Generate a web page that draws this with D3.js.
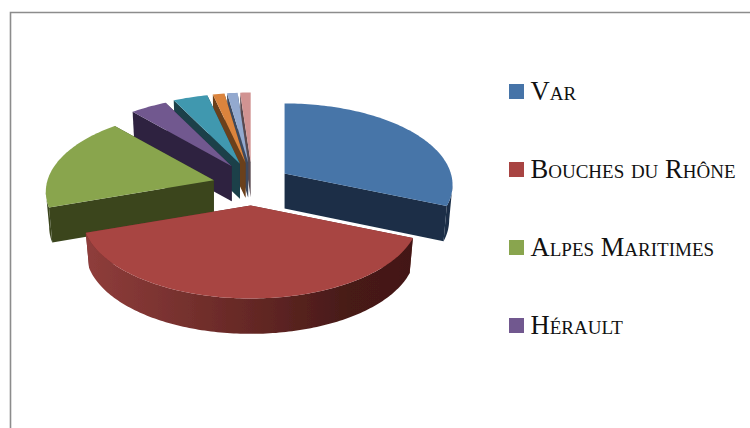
<!DOCTYPE html>
<html><head><meta charset="utf-8">
<script src="https://cdn.jsdelivr.net/npm/d3@7"></script>
<style>html,body{margin:0;padding:0;background:#fff}svg{display:block}</style>
</head><body><svg id="c" width="750" height="428"></svg>
<script>
const categories=["Var","Bouches du Rhône","Alpes Maritimes","Hérault","Gard","Vaucluse","Drôme","Ardèche"];
const values=[29.17,42.73,18.05,3.6,3.33,1.11,1,1];
const topColors=["#4674A8","#A84442","#89A54E","#71588F","#4198AF","#DB843D","#93A9CF","#D19392"];
const sideColors=["#1A2E47","#6a2a28","#3A451E","#2E2440","#1A3F49","#6B3F1A","#3E4A5E","#5A4A50"];
const legendCount=4;

const W=750,H=428;
const svg=d3.select("#c");
const defs=svg.append("defs");
defs.append("filter").attr("id","soft").attr("x","-5%").attr("y","-5%").attr("width","110%").attr("height","110%")
  .append("feGaussianBlur").attr("stdDeviation",0.6);
const grad=defs.append("linearGradient").attr("id","redSide").attr("gradientUnits","userSpaceOnUse")
  .attr("x1",86).attr("x2",414).attr("y1",0).attr("y2",0);
[[0,"#8F3D3B"],[0.5,"#652825"],[0.8,"#471a18"],[1,"#431816"]].forEach(s=>grad.append("stop").attr("offset",s[0]).attr("stop-color",s[1]));

// frame
svg.append("path").attr("d",`M10.5,${H}V12.5H${W}`).attr("fill","none").attr("stroke","#8c8c8c").attr("stroke-width",1.6);

// projection
const cx=252,cy=190.5,rx=168,ryMid=81.5,yShift=11.5,bottomScale=0.98;
const exX=41,exBack=28,exFront=15;
const depthOf=a=>35+2*Math.max(0,-Math.cos(a));
const pie=d3.pie().sort(null).value(d=>d)(values);
const sx=d3.scaleLinear().domain([-1,1]).range([-rx,rx]);
const sy=d3.scaleLinear().domain([-1,1]).range([-ryMid,ryMid]);
function apex(mid){
  const c=Math.cos(mid);
  return [cx+exX*Math.sin(mid), cy-(c>0?exBack:exFront)*c];
}
function rim(a,o,low){
  const k=low?bottomScale:1;
  return [o[0]+k*sx(Math.sin(a)), o[1]+yShift-k*sy(Math.cos(a))+(low?depthOf(a):0)];
}
const line=d3.line();
function samples(a0,a1){const n=Math.max(2,Math.ceil((a1-a0)/0.02));return d3.range(n+1).map(i=>a0+(a1-a0)*i/n);}

const g=svg.append("g").attr("filter","url(#soft)");
const order=d3.range(pie.length).sort((p,q)=>{
  const rank=i=>-Math.cos((pie[i].startAngle+pie[i].endAngle)/2);
  return rank(p)-rank(q);
});
order.forEach(i=>{
  const d=pie[i],o=apex((d.startAngle+d.endAngle)/2);
  const low=[o[0],o[1]+35];
  [d.endAngle,d.startAngle].sort((a,b)=>Math.cos(b)-Math.cos(a)).forEach(a=>{
    g.append("path").attr("d",line([o,rim(a,o,false),rim(a,o,true),low])+"Z").attr("fill",sideColors[i]);
  });
  const a0=Math.max(d.startAngle,Math.PI/2),a1=Math.min(d.endAngle,Math.PI*1.5);
  if(a1>a0){
    const s=samples(a0,a1);
    g.append("path").attr("d",line(s.map(a=>rim(a,o,false)).concat(s.slice().reverse().map(a=>rim(a,o,true))))+"Z")
      .attr("fill",i===1?"url(#redSide)":sideColors[i]);
  }
  const s=samples(d.startAngle,d.endAngle);
  g.append("path").attr("d",line([o].concat(s.map(a=>rim(a,o,false))))+"Z").attr("fill",topColors[i]);
});

// legend
const ly=d3.scalePoint().domain(categories.slice(0,legendCount)).range([91.5,325.5]);
const leg=svg.append("g").selectAll("g").data(categories.slice(0,legendCount)).join("g")
  .attr("transform",d=>`translate(509,${ly(d)})`);
leg.append("rect").attr("x",0).attr("y",-7.5).attr("width",15).attr("height",15).attr("fill",(d,i)=>topColors[i]);
leg.append("text").attr("x",21.5).attr("y",8.5).text(d=>d)
  .style("font-family","'Liberation Serif',serif").style("font-variant","small-caps")
  .style("font-size","26.6px").attr("fill","#111");
</script></body></html>
